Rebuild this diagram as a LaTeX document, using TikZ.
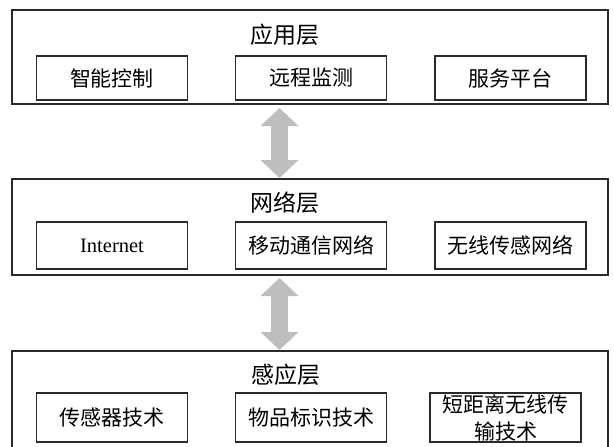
\documentclass[tikz,border=0pt]{standalone}
\usepackage{fontspec}
\setmainfont{Liberation Serif}
\newfontfamily\cjk{Noto Sans CJK SC}
\usetikzlibrary{arrows.meta}
\definecolor{edgecol}{HTML}{2A2A2A}
\definecolor{arrowgray}{HTML}{BEBEBE}
\tikzset{
  layerbox/.style={draw=edgecol, line width=1.3pt, rectangle, inner sep=0pt, minimum width=596pt},
  itembox/.style={draw=edgecol, line width=1.3pt, rectangle, inner sep=0pt, minimum width=151pt, font=\cjk\fontsize{21pt}{27pt}\selectfont, align=center},
  titletext/.style={font=\cjk\fontsize{23pt}{27pt}\selectfont, inner sep=0pt},
  bigarrow/.style={draw=arrowgray, line width=17pt,
    {Triangle[length=18pt 0, width=37pt 0]}-{Triangle[length=18pt 0, width=37pt 0]}}
}
\begin{document}
\begin{tikzpicture}[x=1pt,y=-1pt]
\useasboundingbox (0,0) rectangle (614,447);
\fill[white] (0,0) rectangle (614,447);
\clip (0,0) rectangle (614,447);

% layers
\node[layerbox, minimum height=94pt] (app) at (310,57) {};
\node[layerbox, minimum height=96pt] (net) at (310,227) {};
\node[layerbox, minimum height=119pt] (sense) at (310,410.5) {};

% titles
\node[titletext] (appt) at (285,35) {应用层};
\node[titletext] (nett) at (285,203) {网络层};
\node[titletext] (senset) at (286,375) {感应层};

% application items
\node[itembox, minimum height=44pt] (a1) at (112,78) {智能控制};
\node[itembox, minimum height=44pt] (a2) at (311,78) {远程监测};
\node[itembox, minimum height=44pt] (a3) at (510.5,78) {服务平台};

% network items
\node[itembox, minimum height=47pt, font=\fontsize{20.5pt}{24pt}\selectfont] (n1) at (112,245.5) {Internet};
\node[itembox, minimum height=47pt] (n2) at (311,245.5) {移动通信网络};
\node[itembox, minimum height=47pt] (n3) at (510.5,245.5) {无线传感网络};

% sensing items
\node[itembox, minimum height=49pt] (s1) at (112,417.5) {传感器技术};
\node[itembox, minimum height=49pt] (s2) at (311,417.5) {物品标识技术};
\node[itembox, minimum height=49pt] (s3) at (505.5,417.5) {短距离无线传\\输技术};

% arrows
\coordinate (ar1t) at (279.5,108);
\coordinate (ar1b) at (279.5,178);
\coordinate (ar2t) at (279.5,278);
\coordinate (ar2b) at (279.5,350);
\draw[bigarrow] (ar1t) -- (ar1b);
\draw[bigarrow] (ar2t) -- (ar2b);
\end{tikzpicture}
\end{document}
